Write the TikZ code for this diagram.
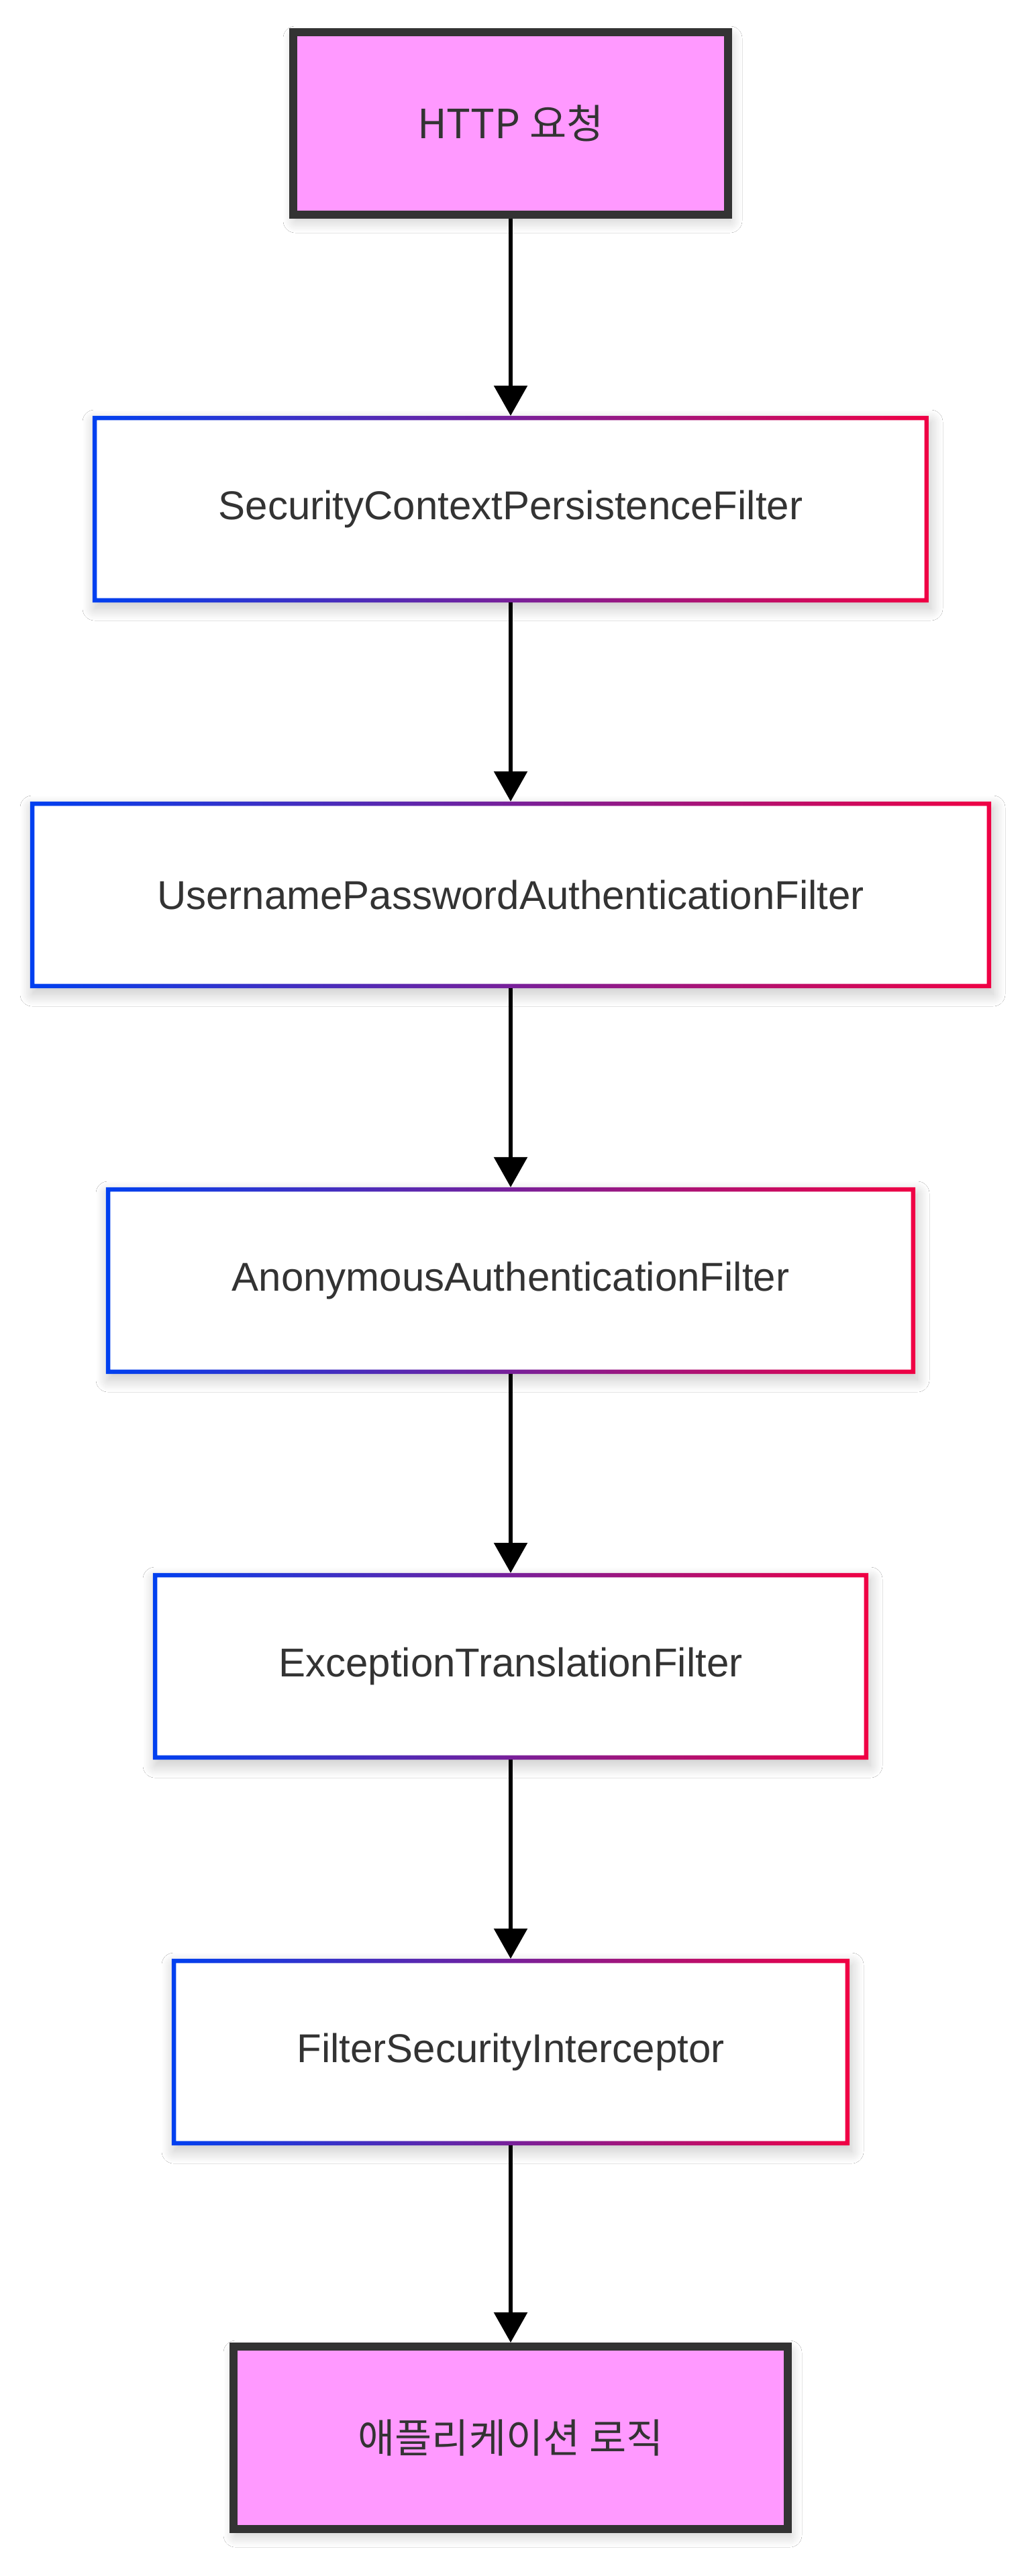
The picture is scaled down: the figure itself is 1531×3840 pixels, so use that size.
\documentclass[tikz,border=0pt]{standalone}
\usepackage{fontspec}
\setmainfont{Liberation Sans}
\newfontfamily\kor{Noto Sans CJK KR}
\usepackage{xcolor}
\usepackage{tikz}
\usetikzlibrary{arrows.meta, shadows.blur}
\definecolor{ink}{RGB}{51,51,51}
\definecolor{pinkfill}{RGB}{255,153,255}
\definecolor{fblue}{RGB}{0,64,240}
\definecolor{fred}{RGB}{240,0,68}

\begin{document}
\begin{tikzpicture}[x=1pt, y=-1pt, font=\fontsize{60}{72}\selectfont, text=ink,
  soft/.style={blur shadow={shadow xshift=3pt, shadow yshift=-9pt, shadow blur radius=18pt, shadow blur steps=20, shadow opacity=22}},
  endbox/.style={soft, draw=ink, line width=12pt, fill=pinkfill, minimum height=272pt, font=\fontsize{60}{72}\kor},
  filter/.style={soft, fill=white, minimum height=278pt},
  flow/.style={line width=6pt, -{Triangle[width=49pt, length=45pt]}}]
  \fill[white] (0,0) rectangle (1531,3840);
  \useasboundingbox (0,0) rectangle (1531,3840);
  \newcommand{\filterstep}[4]{%
    \node[filter, minimum width=#3pt] (#1) at (761,#2) {#4};
    \shade[left color=fblue, right color=fred, even odd rule]
      (#1.north west) rectangle (#1.south east)
      ([shift={(6.5pt,-6.5pt)}]#1.north west) rectangle ([shift={(-6.5pt,6.5pt)}]#1.south east);}
  \node[endbox, minimum width=648pt] (req) at (761,184) {HTTP 요청};
  \filterstep{scpf}{759}{1246}{SecurityContextPersistenceFilter}
  \filterstep{upaf}{1334}{1432}{UsernamePasswordAuthenticationFilter}
  \filterstep{anon}{1909}{1206}{AnonymousAuthenticationFilter}
  \filterstep{etf}{2484}{1066}{ExceptionTranslationFilter}
  \filterstep{fsi}{3059}{1010}{FilterSecurityInterceptor}
  \node[endbox, minimum width=826pt] (app) at (761,3634) {애플리케이션 로직};
  \foreach \a/\b in {req/scpf, scpf/upaf, upaf/anon, anon/etf, etf/fsi, fsi/app}
    \draw[flow] (\a) -- (\b);
\end{tikzpicture}
\end{document}
